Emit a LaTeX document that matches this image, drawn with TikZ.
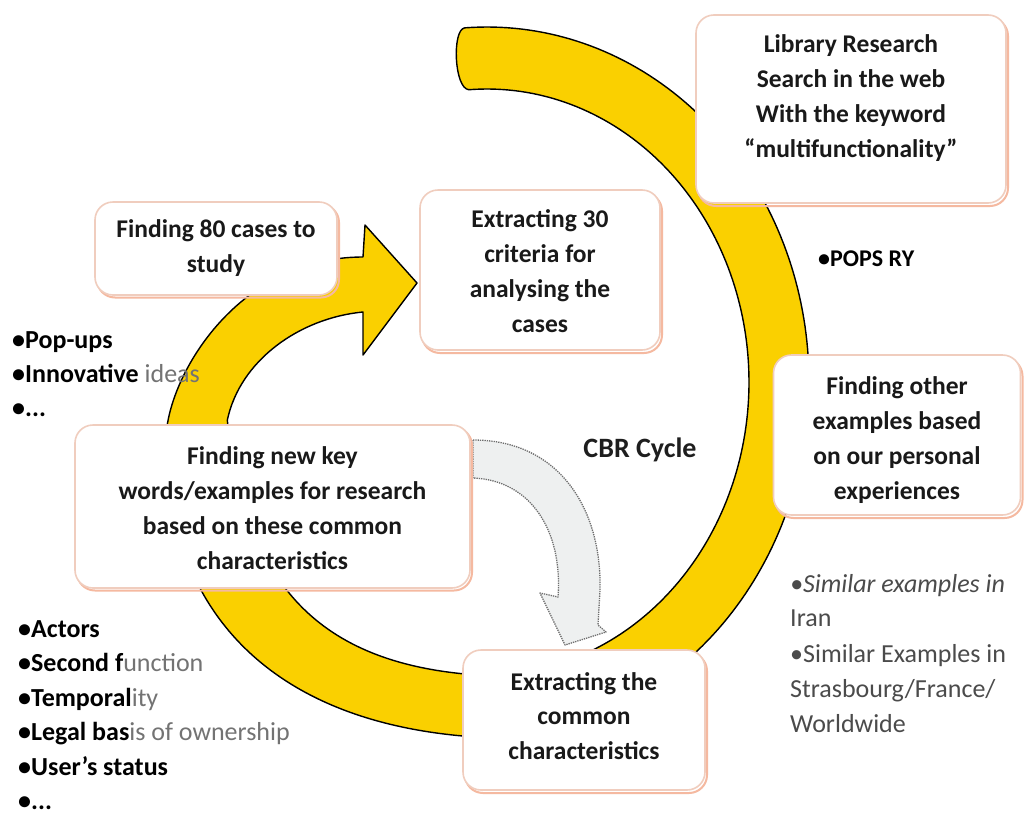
\documentclass[tikz,border=0pt]{standalone}
\usepackage{fontspec}
\setmainfont{Carlito}
\definecolor{ringyellow}{RGB}{250,208,0}
\definecolor{boxline}{RGB}{240,205,190}
\definecolor{boxshadow}{RGB}{245,185,160}
\definecolor{ghostfill}{RGB}{238,240,240}
\definecolor{ghostline}{RGB}{110,110,110}
\definecolor{fadegray}{RGB}{115,115,115}
\definecolor{listgray}{RGB}{75,75,75}
\begin{document}
\begin{tikzpicture}[x=1pt,y=-1pt,
  boxshape/.style={draw=boxline, line width=1.6pt, fill=white, rounded corners=18pt, inner sep=0pt},
  shadowshape/.style={draw=boxshadow, line width=2pt, rounded corners=18pt, inner sep=0pt},
  txt/.style={align=center, font=\bfseries\fontsize{25.5}{34.8}\selectfont, text={rgb,255:red,25;green,25;blue,25}, inner sep=0pt},
  lst/.style={anchor=base west, inner sep=0pt, font=\fontsize{26}{30}\selectfont},
  rl/.style={anchor=base west, inner sep=0pt, font=\fontsize{26}{30}\selectfont, text=listgray},
  ring/.style={fill=ringyellow, draw=black, line width=1.4pt, line join=round},
  ghost/.style={fill=ghostfill, draw=ghostline, densely dotted, line width=1.3pt, line join=round}]
\useasboundingbox (0,0) rectangle (1033,814);
\fill[white] (0,0) rectangle (1033,814);

% big yellow cycle arrow
\path[ring] plot[domain=-94:95, samples=150] ({487+322*cos(\x)},{382+355*sin(\x)})
  .. controls (259,716.4) and (166,600) .. (166,440)
  .. controls (166,380) and (235,257) .. (363,257)
  -- (365,225) -- (417,283) -- (363,355) -- (363,312)
  .. controls (300,318) and (240,360) .. (227.3,420.2)
  .. controls (244.9,569.2) and (304.8,658.4) .. (464,673.9)
  -- plot[domain=95:-94, samples=150] ({487+262*cos(\x)},{382+293*sin(\x)})
  .. controls (454,88) and (452,30) .. (464.5,27.9) -- cycle;

% dotted grey arrow
\path[ghost] (473,440) .. controls (560,440) and (602,510) .. (600,590)
  -- (598,625) -- (606,632) -- (565,645) -- (540,593) -- (558,597)
  .. controls (563,530) and (530,480) .. (473,478) -- cycle;

% boxes
\node[shadowshape, minimum width=310pt, minimum height=188pt] (s1) at (853,112) {};
\node[boxshape, minimum width=310pt, minimum height=188pt] (b1) at (851,109) {};
\node[txt] (t1) at (851,98) {Library Research\\Search in the web\\With the keyword\\“multifunctionality”};

\node[shadowshape, minimum width=240pt, minimum height=160pt] (s2) at (542,273) {};
\node[boxshape, minimum width=240pt, minimum height=160pt] (b2) at (540,270) {};
\node[txt] (t2) at (540,271) {Extracting 30\\criteria for\\analysing the\\cases};

\node[shadowshape, minimum width=242pt, minimum height=93pt] (s3) at (218,251) {};
\node[boxshape, minimum width=242pt, minimum height=93pt] (b3) at (216,248.5) {};
\node[txt] (t3) at (216,248) {Finding 80 cases to\\study};

\node[shadowshape, minimum width=247pt, minimum height=160pt] (s4) at (899,438) {};
\node[boxshape, minimum width=247pt, minimum height=160pt] (b4) at (897,435) {};
\node[txt] (t4) at (897,440) {Finding other\\examples based\\on our personal\\experiences};

\node[shadowshape, minimum width=395pt, minimum height=163pt] (s5) at (274.5,509) {};
\node[boxshape, minimum width=395pt, minimum height=163pt] (b5) at (272.5,506.5) {};
\node[txt] (t5) at (272.5,508) {Finding new key\\words/examples for research\\based on these common\\characteristics};

\node[shadowshape, minimum width=242pt, minimum height=140pt] (s6) at (586,723) {};
\node[boxshape, minimum width=242pt, minimum height=140pt] (b6) at (584,720) {};
\node[txt] (t6) at (584,716) {Extracting the\\common\\characteristics};

% labels
\node[inner sep=0pt, font=\bfseries\fontsize{28}{30}\selectfont, text={rgb,255:red,30;green,30;blue,30}] (cbr) at (640,450) {CBR Cycle};
\node[lst, font=\bfseries\fontsize{24}{30}\selectfont] (pops) at (818,266) {•POPS RY};

% left upper list
\node[lst] (l1) at (12,348) {\textbf{•Pop-ups}};
\node[lst] (l2) at (12,382) {\textbf{•Innovative} \textcolor{fadegray}{ideas}};
\node[lst] (l3) at (12,416) {\textbf{•...}};

% left lower list
\node[lst] (m1) at (18,637) {\textbf{•Actors}};
\node[lst] (m2) at (18,671.5) {\textbf{•Second f}\textcolor{fadegray}{unction}};
\node[lst] (m3) at (18,706) {\textbf{•Temporal}\textcolor{fadegray}{ity}};
\node[lst] (m4) at (18,740.5) {\textbf{•Legal bas}\textcolor{fadegray}{is of ownership}};
\node[lst] (m5) at (18,775) {\textbf{•User’s status}};
\node[lst] (m6) at (18,809.5) {\textbf{•...}};

% right list
\node[rl] (r1) at (790,592) {\textit{•Similar examples in}};
\node[rl] (r2) at (790,626) {Iran};
\node[rl] (r3) at (790,662) {•Similar Examples in};
\node[rl] (r4) at (790,697) {Strasbourg/France/};
\node[rl] (r5) at (790,732) {Worldwide};
\end{tikzpicture}
\end{document}
